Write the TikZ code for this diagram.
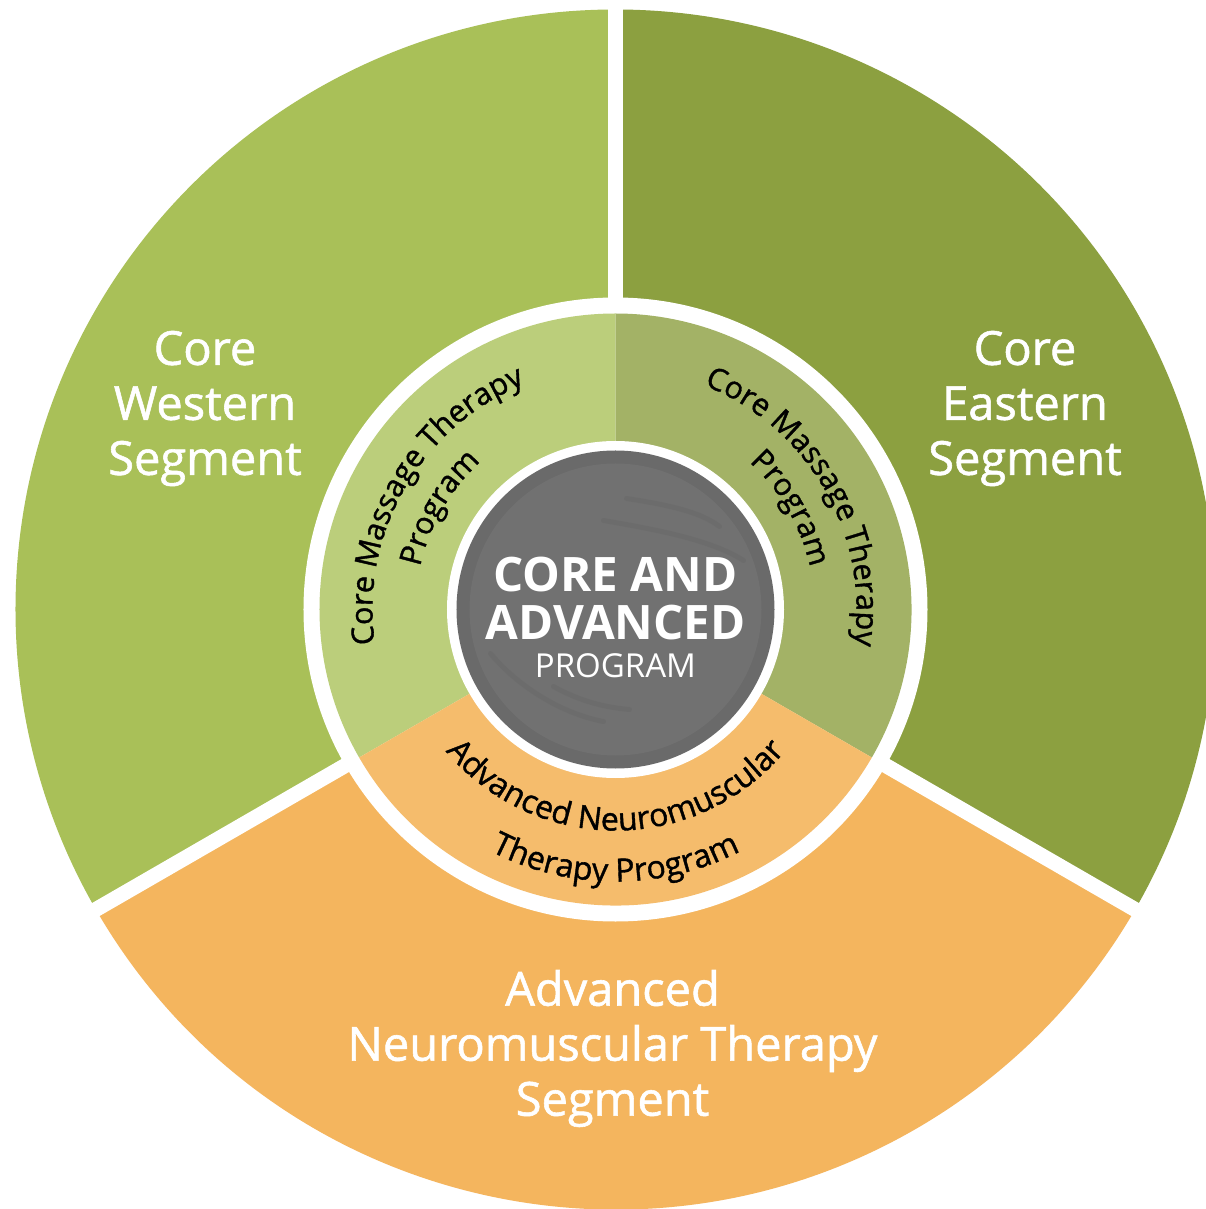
\documentclass[tikz,border=0pt]{standalone}
\usepackage{fontspec}
\setmainfont{Open Sans}
\IfFontExistsTF{Open Sans SemiBold}
  {\newfontfamily\semisans{Open Sans SemiBold}}
  {\newfontfamily\semisans[FakeBold=1.2]{Open Sans}}
\usepackage{tikz}
\usetikzlibrary{decorations.text}

\definecolor{western}{HTML}{A9C058}
\definecolor{eastern}{HTML}{8CA040}
\definecolor{advanced}{HTML}{F4B55E}
\definecolor{westernlt}{HTML}{BBCE7B}
\definecolor{easternlt}{HTML}{A3B266}
\definecolor{advancedlt}{HTML}{F5BC6C}
\definecolor{hub}{HTML}{717171}
\definecolor{hubdk}{HTML}{6A6A6A}

\newcommand{\segfont}{\semisans\fontsize{47}{55}\selectfont}
\newcommand{\ringfont}{\semisans\fontsize{30.5}{36}\selectfont}
\newcommand{\lowfont}{\semisans\fontsize{32}{36}\selectfont}

\begin{document}
\begin{tikzpicture}[
  ,segment label/.style={text=white,align=center,font=\segfont}
  ,hub label/.style={text=white,anchor=base}
  ,gap/.style={white,line width=15pt}
  ,arctext/.style={decorate,decoration={text along path,text align=center,text={#1}}}
  ,swirl/.style={hubdk,line width=5pt,line cap=round,opacity=.6}]

  \fill[white] (-615.5pt,-599.5pt) rectangle (589.5pt,609.5pt);
  \useasboundingbox (-615.5pt,-599.5pt) rectangle (589.5pt,609.5pt);

  % outer ring
  \fill[western] (0,0) -- (90:600pt) arc[start angle=90,end angle=210,radius=600pt] -- cycle;
  \fill[eastern] (0,0) -- (-30:600pt) arc[start angle=-30,end angle=90,radius=600pt] -- cycle;
  \fill[advanced] (0,0) -- (210:600pt) arc[start angle=210,end angle=330,radius=600pt] -- cycle;
  \foreach \a in {90,210,330}
    \draw[gap] (0,0) -- (\a:620pt);
  \fill[white] (0,0) circle[radius=312pt];

  % middle ring
  \fill[westernlt] (0,0) -- (90:296pt) arc[start angle=90,end angle=210,radius=296pt] -- cycle;
  \fill[easternlt] (0,0) -- (-30:296pt) arc[start angle=-30,end angle=90,radius=296pt] -- cycle;
  \fill[advancedlt] (0,0) -- (210:296pt) arc[start angle=210,end angle=330,radius=296pt] -- cycle;

  % hub
  \fill[white] (0,0) circle[radius=168.5pt];
  \fill[hubdk] (0,0) circle[radius=159pt];
  \fill[hub] (0,0) circle[radius=146pt];
  \draw[swirl] (11pt,111pt) .. controls (50pt,105pt) and (85pt,98pt) .. (104pt,83pt);
  \draw[swirl] (-12pt,89pt) .. controls (40pt,80pt) and (95pt,70pt) .. (128pt,49pt);
  \draw[swirl] (-125pt,-44pt) .. controls (-95pt,-80pt) and (-50pt,-105pt) .. (-12pt,-112pt);
  \draw[swirl] (-62pt,-77pt) .. controls (-35pt,-92pt) and (-10pt,-98pt) .. (14pt,-100pt);

  % curved labels, middle ring
  \path[arctext={|\ringfont|Core Massage Therapy}] (195:243pt) arc[start angle=195,end angle=105,radius=243pt];
  \path[arctext={|\ringfont|Program}] (195:200pt) arc[start angle=195,end angle=105,radius=200pt];
  \path[arctext={|\ringfont|Core Massage Therapy}] (75:241pt) arc[start angle=75,end angle=-15,radius=241pt];
  \path[arctext={|\ringfont|Program}] (75:199pt) arc[start angle=75,end angle=-15,radius=199pt];
  \path[arctext={|\lowfont|Advanced Neuromuscular}] (210:221pt) arc[start angle=210,end angle=330,radius=221pt];
  \path[arctext={|\lowfont|Therapy Program}] (210:272pt) arc[start angle=210,end angle=330,radius=272pt];

  % outer labels
  \node[segment label] (western) at (-410.5pt,201pt) {Core\\Western\\Segment};
  \node[segment label] (eastern) at (409.5pt,201pt) {Core\\Eastern\\Segment};
  \node[segment label] (advanced) at (-3pt,-439pt) {Advanced\\Neuromuscular Therapy\\Segment};

  % centre
  \node[hub label,font=\bfseries\fontsize{47.5}{48}\selectfont] (coreand) at (0,17.8pt) {CORE AND};
  \node[hub label,font=\bfseries\fontsize{47.5}{48}\selectfont] (advancedtxt) at (0,-30.5pt) {ADVANCED};
  \node[hub label,font=\fontsize{33}{36}\selectfont] (program) at (0,-68.5pt) {PROGRAM};

\end{tikzpicture}
\end{document}
